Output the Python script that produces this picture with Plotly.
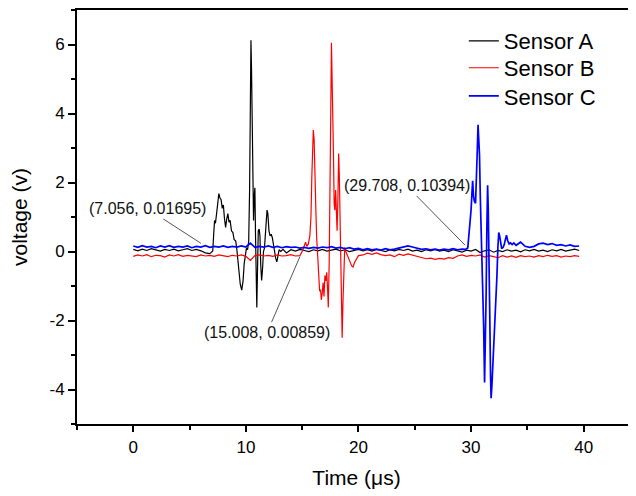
import plotly.graph_objects as go

# ---------------- data ----------------
series_names = ["Sensor A", "Sensor B", "Sensor C"]
series_colors = ["#000000", "#ff0000", "#0000ff"]

t_a = [0.0, 0.4, 0.8, 1.2, 1.6, 2.0, 2.4, 2.8, 3.2, 3.6,
       4.0, 4.4, 4.8, 5.2, 5.6, 6.0, 6.4, 6.8,
       7.056, 7.15, 7.22, 7.3, 7.38, 7.48, 7.6, 7.7, 7.8, 7.9,
       8.0, 8.1, 8.2, 8.3, 8.4, 8.5, 8.6, 8.72, 8.85, 8.95,
       9.1, 9.2, 9.35, 9.5, 9.63, 9.75, 9.85, 9.95, 10.05, 10.15,
       10.25, 10.33, 10.4, 10.45, 10.5, 10.56, 10.62, 10.68, 10.74, 10.8,
       10.86, 10.92, 10.97, 11.03, 11.1, 11.18, 11.25, 11.32, 11.4, 11.48,
       11.56, 11.65, 11.72, 11.8, 11.88, 11.95, 12.05, 12.15, 12.25, 12.35,
       12.45, 12.55, 12.65, 12.75, 12.85, 12.95, 13.1, 13.3,
       13.6, 14.0, 14.4, 14.8, 15.2, 15.6, 16.0, 16.4, 16.8, 17.2,
       17.6, 18.0, 18.4, 18.8, 19.2, 19.6, 20.0, 20.4, 20.8, 21.2,
       21.6, 22.0, 22.4, 22.8, 23.2, 23.6, 24.0, 24.4, 24.8, 25.2,
       25.6, 26.0, 26.4, 26.8, 27.2, 27.6, 28.0, 28.4, 28.8, 29.2,
       29.6, 30.0, 30.4, 30.8, 31.2, 31.6, 32.0, 32.4, 32.8, 33.2,
       33.6, 34.0, 34.4, 34.8, 35.2, 35.6, 36.0, 36.4, 36.8, 37.2,
       37.6, 38.0, 38.4, 38.8, 39.2, 39.6]
v_a = [0.06, 0.02, 0.07, 0.03, 0.08, 0.04, 0.01, 0.06, 0.03, 0.07,
       0.02, 0.05, 0.08, 0.03, 0.06, 0.02, -0.04, -0.06,
       0.017, 0.55, 0.9, 0.82, 1.05, 1.3, 1.68, 1.55, 1.5, 1.25,
       1.35, 0.95, 0.7, 0.95, 1.1, 0.85, 0.9, 0.6, 0.55, 0.35,
       0.3, 0.05, -0.45, -0.95, -1.12, -0.85, -0.35, -0.05, 0.1, 0.05,
       0.3, 1.8, 4.8, 6.12, 5.3, 3.0, 1.85, 0.9, 1.6, 1.85,
       0.4, -1.0, -1.62, -0.6, 0.6, 0.65, 0.45, -0.4, -0.84, -0.5,
       0.0, 0.1, 0.55, 0.95, 1.2, 1.1, 0.6, 0.45, 0.5, 0.4,
       0.2, -0.05, -0.2, -0.3, -0.15, 0.05, 0.0, 0.06,
       -0.04, 0.05, 0.01, 0.06, 0.03, 0.0, 0.05, 0.02, 0.06, 0.01,
       0.04, 0.07, 0.02, 0.05, 0.0, 0.04, 0.06, 0.02, 0.05, 0.01,
       0.06, 0.03, 0.0, 0.05, 0.02, 0.06, 0.03, 0.07, 0.01, 0.04,
       0.0, 0.05, 0.02, 0.06, 0.01, 0.04, 0.0, 0.05, 0.02, -0.02,
       0.04, 0.01, 0.06, -0.03, 0.02, 0.05, -0.02, 0.03, 0.0, 0.05,
       0.01, 0.04, -0.01, 0.05, 0.02, 0.06, 0.01, 0.04, 0.0, 0.05,
       0.02, 0.06, 0.01, 0.04, 0.07, 0.03]

t_b = [0.0, 0.4, 0.8, 1.2, 1.6, 2.0, 2.4, 2.8, 3.2, 3.6,
       4.0, 4.4, 4.8, 5.2, 5.6, 6.0, 6.4, 6.8, 7.2, 7.6,
       8.0, 8.4, 8.8, 9.2, 9.6, 10.0, 10.4, 10.8, 11.2, 11.6,
       12.0, 12.4, 12.8, 13.2, 13.6, 14.0, 14.4, 14.8,
       15.008, 15.1, 15.2, 15.3, 15.42, 15.55, 15.68, 15.78, 15.86, 15.93,
       15.99, 16.06, 16.13, 16.2, 16.28, 16.36, 16.45, 16.55, 16.63, 16.7,
       16.78, 16.86, 16.94, 17.02, 17.1, 17.18, 17.26, 17.32, 17.4, 17.47,
       17.54, 17.6, 17.66, 17.72, 17.78, 17.84, 17.9, 17.97, 18.03, 18.1,
       18.17, 18.24, 18.3, 18.37, 18.44, 18.5, 18.55, 18.62, 18.7, 18.78,
       18.88, 18.98, 19.1, 19.25, 19.4, 19.52, 19.65, 19.8, 20.0,
       20.4, 20.8, 21.2, 21.6, 22.0, 22.4, 22.8, 23.2, 23.6, 24.0,
       24.4, 24.8, 25.2, 25.6, 26.0, 26.4, 26.8, 27.2, 27.6, 28.0,
       28.4, 28.8, 29.2, 29.6, 30.0, 30.4, 30.8, 31.2, 31.6, 32.0,
       32.4, 32.8, 33.2, 33.6, 34.0, 34.4, 34.8, 35.2, 35.6, 36.0,
       36.4, 36.8, 37.2, 37.6, 38.0, 38.4, 38.8, 39.2, 39.6]
v_b = [-0.14, -0.1, -0.13, -0.09, -0.15, -0.11, -0.12, -0.16, -0.1, -0.13,
       -0.09, -0.14, -0.11, -0.12, -0.15, -0.1, -0.13, -0.11, -0.14, -0.1,
       -0.12, -0.15, -0.11, -0.13, -0.1, -0.14, -0.26, -0.12, -0.1, -0.13,
       -0.11, -0.14, -0.1, -0.13, -0.12, -0.09, -0.13, -0.12,
       0.0086, 0.08, 0.2, 0.27, 0.15, 0.22, 0.45, 1.0, 2.2, 3.3,
       3.52, 3.25, 2.6, 1.4, 0.45, -0.15, -0.7, -1.15, -1.1, -1.4,
       -1.2, -0.9, -1.3, -0.7, -0.85, -0.6, -1.1, -1.62, -0.3, 1.2,
       4.0, 6.05, 5.2, 4.5, 2.8, 1.4, 1.2, 1.78, 1.1, 0.6,
       1.5, 2.84, 2.2, 1.0, -0.6, -2.0, -2.5, -1.5, -0.3, 0.12,
       0.0, -0.1, -0.15, -0.3, -0.42, -0.45, -0.32, -0.22, -0.12,
       -0.1, -0.05, -0.08, -0.04, -0.09, -0.12, -0.1, -0.15, -0.08, -0.11,
       -0.07, -0.1, -0.14, -0.18, -0.21, -0.19, -0.23, -0.2, -0.22, -0.18,
       -0.2, -0.13, -0.1, -0.14, -0.11, -0.13, -0.1, -0.16, -0.12, -0.15,
       -0.18, -0.12, -0.16, -0.13, -0.17, -0.12, -0.15, -0.13, -0.16, -0.12,
       -0.15, -0.11, -0.14, -0.12, -0.16, -0.13, -0.15, -0.12, -0.14]

t_c = [0.0, 0.4, 0.8, 1.2, 1.6, 2.0, 2.4, 2.8, 3.2, 3.6,
       4.0, 4.4, 4.8, 5.2, 5.6, 6.0, 6.4, 6.8, 7.2, 7.6,
       8.0, 8.4, 8.8, 9.2, 9.6, 10.0, 10.4, 10.8, 11.2, 11.6,
       12.0, 12.4, 12.8, 13.2, 13.6, 14.0, 14.4, 14.8, 15.2, 15.6,
       16.0, 16.4, 16.8, 17.2, 17.6, 18.0, 18.4, 18.8, 19.2, 19.6,
       20.0, 20.4, 20.8, 21.2, 21.6, 22.0, 22.4, 22.8, 23.2, 23.6,
       24.0, 24.4, 24.8, 25.2, 25.6, 26.0, 26.4, 26.8, 27.2, 27.6,
       28.0, 28.4, 28.8, 29.2,
       29.5, 29.708, 29.8, 29.9, 30.0, 30.08, 30.14, 30.22, 30.3, 30.4,
       30.48, 30.55, 30.62, 30.68, 30.75, 30.82, 30.9, 30.98, 31.05, 31.12,
       31.2, 31.27, 31.34, 31.4, 31.47, 31.53, 31.6, 31.66, 31.73, 31.78,
       31.85, 31.93, 32.0, 32.1, 32.2, 32.3, 32.38, 32.46, 32.54, 32.62,
       32.72, 32.85, 32.95, 33.05, 33.15, 33.25, 33.38, 33.5, 33.65, 33.8,
       34.0, 34.4, 34.8, 35.2, 35.6, 36.0, 36.4, 36.8, 37.2, 37.6,
       38.0, 38.4, 38.8, 39.2, 39.6]
v_c = [0.16, 0.12, 0.17, 0.13, 0.15, 0.11, 0.16, 0.13, 0.17, 0.12,
       0.15, 0.13, 0.16, 0.11, 0.15, 0.13, 0.17, 0.12, 0.15, 0.13,
       0.16, 0.12, 0.15, 0.13, 0.16, 0.13, 0.24, 0.12, 0.15, 0.13,
       0.16, 0.12, 0.15, 0.11, 0.14, 0.12, 0.13, 0.1, 0.12, 0.09,
       0.12, 0.1, 0.13, 0.11, 0.14, 0.1, 0.12, 0.08, 0.11, 0.07,
       0.09, 0.05, 0.08, 0.05, 0.07, 0.04, 0.08, 0.05, 0.07, 0.1,
       0.14, 0.16, 0.13, 0.1, 0.06, 0.08, 0.05, 0.07, 0.04, 0.07,
       0.05, 0.08, 0.05, 0.07,
       0.06, 0.104, 0.4, 0.8, 1.2, 1.7, 2.05, 1.6, 1.45, 1.4,
       2.0, 2.9, 3.67, 3.4, 2.8, 1.6, 0.6, -0.3, -0.9, -2.2,
       -3.8, -2.8, -1.2, 0.6, 1.92, 1.2, 0.1, -1.8, -3.6, -4.25,
       -3.9, -3.4, -2.8, -2.1, -1.4, -0.7, 0.1, 0.55, 0.45, 0.2,
       0.08, 0.12, 0.2, 0.35, 0.47, 0.32, 0.22, 0.25, 0.2, 0.25,
       0.18, 0.27, 0.15, 0.12, 0.15, 0.22, 0.24, 0.2, 0.23, 0.18,
       0.2, 0.16, 0.19, 0.15, 0.16]

# labelled onset points (time, voltage)
onset_t = [7.056, 15.008, 29.708]
onset_v = [0.01695, 0.00859, 0.10394]

x_tick_vals = [0, 10, 20, 30, 40]
x_tick_text = ["0", "10", "20", "30", "40"]
y_tick_vals = [-4, -2, 0, 2, 4, 6]
y_tick_text = ["-4", "-2", "0", "2", "4", "6"]

# ---------------- figure ----------------
FONT = "Arial, 'Liberation Sans', sans-serif"
fig = go.Figure()
widths = [1.2, 1.2, 1.7]
legend_ids = ["legend", "legend2", "legend3"]
for name, col, t, v, w, lg in zip(series_names, series_colors,
                                   [t_a, t_b, t_c], [v_a, v_b, v_c],
                                   widths, legend_ids):
    fig.add_trace(go.Scatter(x=t, y=v, mode="lines", name=name, legend=lg,
                             line=dict(color=col, width=w)))

# annotation label offsets (pixels) and standoffs
offsets = [(-65, -42, 14), (-35, 81, 6), (-61, -62, 4)]
for tx, vy, (ax, ay, so) in zip(onset_t, onset_v, offsets):
    fig.add_annotation(x=tx, y=vy, text=f"({tx}, {vy})",
                       showarrow=True, arrowhead=0, arrowwidth=1,
                       arrowcolor="#555555", ax=ax, ay=ay, standoff=so,
                       font=dict(family=FONT, size=16, color="#111111"))

legend_style = dict(xanchor="left", yanchor="middle",
                    bgcolor="rgba(0,0,0,0)", borderwidth=0,
                    font=dict(family=FONT, size=22, color="black"))
fig.update_layout(
    width=628, height=488,
    margin=dict(l=69, r=0, t=2, b=72),
    paper_bgcolor="white", plot_bgcolor="white",
    font=dict(family=FONT, color="black"),
    showlegend=True,
    legend=dict(x=0.692, y=0.925, **legend_style),
    legend2=dict(x=0.692, y=0.860, **legend_style),
    legend3=dict(x=0.692, y=0.792, **legend_style),
)
fig.update_xaxes(
    range=[-5, 44.65], showgrid=False, zeroline=False,
    showline=True, linecolor="black", linewidth=2, mirror=True,
    ticks="outside", ticklen=6, tickwidth=2, tickcolor="black",
    tickmode="array", tickvals=x_tick_vals, ticktext=x_tick_text,
    tickfont=dict(family=FONT, size=17, color="black"),
    ticklabelstandoff=1,
    minor=dict(tickmode="linear", tick0=-5, dtick=10, ticks="outside", ticklen=4,
               tickwidth=2, tickcolor="black", showgrid=False),
    title=dict(text="Time (μs)", font=dict(family=FONT, size=21, color="black"),
               standoff=14),
)
fig.update_yaxes(
    range=[-5, 7], showgrid=False, zeroline=False,
    showline=True, linecolor="black", linewidth=2,
    ticks="outside", ticklen=7, tickwidth=2, tickcolor="black",
    tickmode="array", tickvals=y_tick_vals, ticktext=y_tick_text,
    tickfont=dict(family=FONT, size=17, color="black"),
    minor=dict(tickmode="linear", tick0=-5, dtick=2, ticks="outside", ticklen=4,
               tickwidth=2, tickcolor="black", showgrid=False),
    title=dict(text="voltage (v)", font=dict(family=FONT, size=21, color="black"),
               standoff=16),
)

fig.write_html("out.html")
